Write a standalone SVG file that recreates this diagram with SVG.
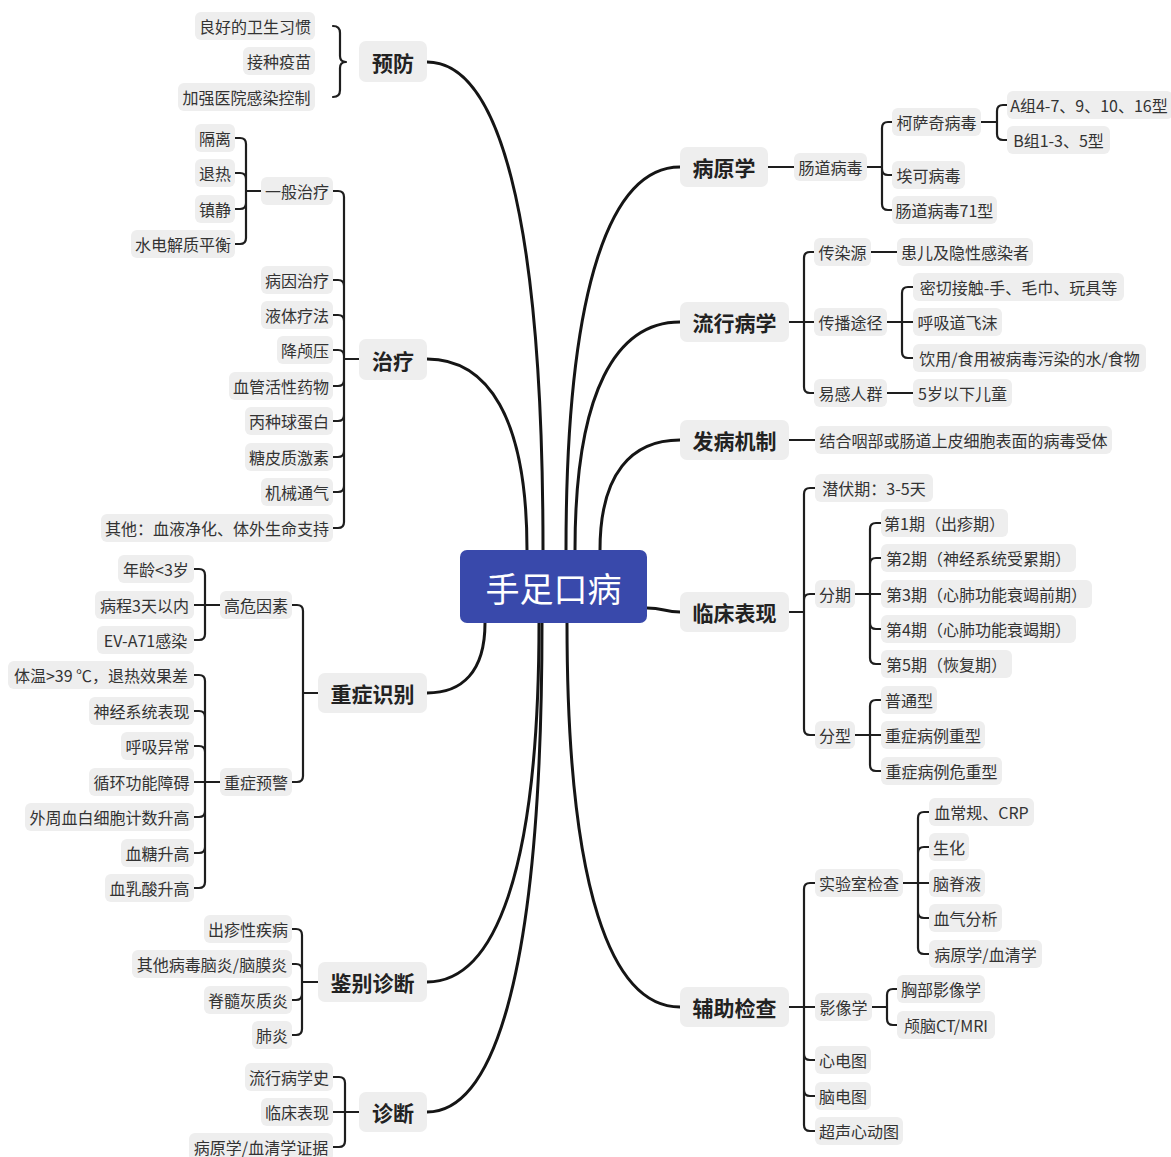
<svg xmlns="http://www.w3.org/2000/svg" width="1171" height="1157" viewBox="0 0 1171 1157">
<style>
.bg{fill:#ffffff}
.n rect{fill:#EEEEEE}
.n text{font-family:"Noto Sans CJK SC","Noto Sans",sans-serif;font-size:16px;fill:#333333;text-anchor:middle;dominant-baseline:central}
.m text{font-size:21px;font-weight:bold;fill:#222222}
.root rect{fill:#3949AB}
.root text{font-size:34px;fill:#ffffff;font-weight:normal}
.c path{fill:none;stroke:#1e1e1e;stroke-width:2.2;stroke-linecap:round;stroke-linejoin:round}
.c path.mc{stroke:#151515;stroke-width:3}
</style>
<rect class="bg" x="0" y="0" width="1171" height="1157"/>
<g id="connectors" class="c">
<path class="mc" d="M427,62 C497,62 543,208 543,550"/>
<path class="mc" d="M427,359 C487,359 527,416 527,550"/>
<path class="mc" d="M427,693 C462,693 485,672 485,623"/>
<path class="mc" d="M427,982 C494,982 539,874 539,623"/>
<path class="mc" d="M427,1112 C496,1112 542,965 542,623"/>
<path class="mc" d="M680,167 C612,167 566,282 566,550"/>
<path class="mc" d="M680,322 C617,322 575,390 575,550"/>
<path class="mc" d="M680,440 C632,440 600,473 600,550"/>
<path class="mc" d="M680,612 C664,612 664,608 647,608"/>
<path class="mc" d="M680,1007 C612,1007 567,892 567,623"/>
<path d="M333,26 Q340,26 340,33 L340,56 Q340,62 346,62 Q340,62 340,68 L340,90 Q340,97 333,97"/>
<path d="M235,138 H240 Q246,138 246,144 V238 Q246,244 240,244 H235 M235,173 H240 Q246,173 246,179 M235,209 H240 Q246,209 246,203 M246,191 H261"/>
<path d="M333,191 H338 Q344,191 344,197 V522 Q344,528 338,528 H333 M333,280 H338 Q344,280 344,286 M333,315 H338 Q344,315 344,321 M333,350 H338 Q344,350 344,356 M333,386 H338 Q344,386 344,380 M333,421 H338 Q344,421 344,415 M333,457 H338 Q344,457 344,451 M333,492 H338 Q344,492 344,486 M344,359 H359"/>
<path d="M194,569 H199 Q205,569 205,575 V634 Q205,640 199,640 H194 M194,605 H220"/>
<path d="M194,675 H199 Q205,675 205,681 V882 Q205,888 199,888 H194 M194,711 H199 Q205,711 205,717 M194,746 H199 Q205,746 205,752 M194,782 H220 M194,817 H199 Q205,817 205,811 M194,853 H199 Q205,853 205,847"/>
<path d="M292,605 H297 Q303,605 303,611 V776 Q303,782 297,782 H292 M303,693 H318"/>
<path d="M292,929 H296 Q302,929 302,935 V1029 Q302,1035 296,1035 H292 M292,964 H296 Q302,964 302,970 M292,1000 H296 Q302,1000 302,994 M302,982 H318"/>
<path d="M333,1077 H339 Q345,1077 345,1083 V1141 Q345,1147 339,1147 H333 M333,1112 H359"/>
<path d="M768,167 H794"/>
<path d="M892,122 H888 Q882,122 882,128 V204 Q882,210 888,210 H892 M892,175 H888 Q882,175 882,169 M867,167 H882"/>
<path d="M1007,105 H1003 Q997,105 997,111 V134 Q997,140 1003,140 H1007 M981,122 H997"/>
<path d="M814,252 H810 Q804,252 804,258 V387 Q804,393 810,393 H814 M789,322 H814"/>
<path d="M871,252 H897"/>
<path d="M913,287 H908 Q902,287 902,293 V352 Q902,358 908,358 H913 M887,322 H913"/>
<path d="M887,393 H913"/>
<path d="M789,440 H815"/>
<path d="M815,488 H810 Q804,488 804,494 V729 Q804,735 810,735 H815 M815,594 H810 Q804,594 804,600 M789,612 H804"/>
<path d="M881,523 H876 Q870,523 870,529 V658 Q870,664 876,664 H881 M881,558 H876 Q870,558 870,564 M855,594 H881 M881,629 H876 Q870,629 870,623"/>
<path d="M881,700 H876 Q870,700 870,706 V765 Q870,771 876,771 H881 M855,735 H881"/>
<path d="M815,883 H810 Q804,883 804,889 V1125 Q804,1131 810,1131 H815 M789,1007 H815 M815,1060 H810 Q804,1060 804,1054 M815,1096 H810 Q804,1096 804,1090"/>
<path d="M929,812 H924 Q918,812 918,818 V948 Q918,954 924,954 H929 M929,847 H924 Q918,847 918,853 M903,883 H929 M929,918 H924 Q918,918 918,912"/>
<path d="M897,989 H893 Q887,989 887,995 V1019 Q887,1025 893,1025 H897 M872,1007 H887"/>
</g>

<g id="root" class="n root"><rect x="460" y="550" width="187" height="73" rx="7"/><text x="553.5" y="587">手足口病</text></g>

<g id="n-yufang" class="n m"><rect x="359" y="41" width="68" height="41" rx="7"/><text x="393" y="62">预防</text></g>
<g id="n-yf1" class="n"><rect x="195" y="12" width="120" height="28" rx="6"/><text x="255" y="26">良好的卫生习惯</text></g>
<g id="n-yf2" class="n"><rect x="243" y="47" width="72" height="28" rx="6"/><text x="279" y="61">接种疫苗</text></g>
<g id="n-yf3" class="n"><rect x="178" y="83" width="137" height="28" rx="6"/><text x="246.5" y="97">加强医院感染控制</text></g>

<g id="n-zhiliao" class="n m"><rect x="359" y="339" width="68" height="41" rx="7"/><text x="393" y="359.5">治疗</text></g>
<g id="n-ybzl" class="n"><rect x="261" y="177" width="72" height="28" rx="6"/><text x="297" y="191">一般治疗</text></g>
<g id="n-gl" class="n"><rect x="195" y="124" width="40" height="28" rx="6"/><text x="215" y="138">隔离</text></g>
<g id="n-tr" class="n"><rect x="195" y="159" width="40" height="28" rx="6"/><text x="215" y="173">退热</text></g>
<g id="n-zj" class="n"><rect x="195" y="195" width="40" height="28" rx="6"/><text x="215" y="209">镇静</text></g>
<g id="n-sdj" class="n"><rect x="131" y="230" width="104" height="28" rx="6"/><text x="183" y="244">水电解质平衡</text></g>
<g id="n-by" class="n"><rect x="261" y="266" width="72" height="28" rx="6"/><text x="297" y="280">病因治疗</text></g>
<g id="n-yt" class="n"><rect x="261" y="301" width="72" height="28" rx="6"/><text x="297" y="315">液体疗法</text></g>
<g id="n-jly" class="n"><rect x="277" y="336" width="56" height="28" rx="6"/><text x="305" y="350">降颅压</text></g>
<g id="n-xg" class="n"><rect x="229" y="372" width="104" height="28" rx="6"/><text x="281" y="386">血管活性药物</text></g>
<g id="n-bz" class="n"><rect x="245" y="407" width="88" height="28" rx="6"/><text x="289" y="421">丙种球蛋白</text></g>
<g id="n-tp" class="n"><rect x="245" y="443" width="88" height="28" rx="6"/><text x="289" y="457">糖皮质激素</text></g>
<g id="n-jx" class="n"><rect x="261" y="478" width="72" height="28" rx="6"/><text x="297" y="492">机械通气</text></g>
<g id="n-qt" class="n"><rect x="101" y="514" width="232" height="28" rx="6"/><text x="217" y="528">其他：血液净化、体外生命支持</text></g>

<g id="n-zzsb" class="n m"><rect x="318" y="673" width="109" height="40" rx="7"/><text x="372.5" y="693">重症识别</text></g>
<g id="n-gwys" class="n"><rect x="220" y="591" width="72" height="28" rx="6"/><text x="256" y="605">高危因素</text></g>
<g id="n-nl" class="n"><rect x="118" y="555" width="76" height="28" rx="6"/><text x="156" y="569">年龄&lt;3岁</text></g>
<g id="n-bc" class="n"><rect x="95" y="591" width="99" height="28" rx="6"/><text x="144.5" y="605">病程3天以内</text></g>
<g id="n-ev" class="n"><rect x="97" y="626" width="97" height="28" rx="6"/><text x="145.5" y="640">EV-A71感染</text></g>
<g id="n-zzyj" class="n"><rect x="220" y="768" width="72" height="28" rx="6"/><text x="256" y="782">重症预警</text></g>
<g id="n-tw" class="n"><rect x="8" y="661" width="186" height="28" rx="6"/><text x="101" y="675">体温&gt;39 ℃，退热效果差</text></g>
<g id="n-sj" class="n"><rect x="89" y="697" width="105" height="28" rx="6"/><text x="141.5" y="711">神经系统表现</text></g>
<g id="n-hx" class="n"><rect x="121" y="732" width="73" height="28" rx="6"/><text x="157.5" y="746">呼吸异常</text></g>
<g id="n-xh" class="n"><rect x="89" y="768" width="105" height="28" rx="6"/><text x="141.5" y="782">循环功能障碍</text></g>
<g id="n-wz" class="n"><rect x="25" y="803" width="169" height="28" rx="6"/><text x="109.5" y="817">外周血白细胞计数升高</text></g>
<g id="n-xt" class="n"><rect x="121" y="839" width="73" height="28" rx="6"/><text x="157.5" y="853">血糖升高</text></g>
<g id="n-xrs" class="n"><rect x="105" y="874" width="89" height="28" rx="6"/><text x="149.5" y="888">血乳酸升高</text></g>

<g id="n-jbzd" class="n m"><rect x="318" y="962" width="109" height="40" rx="7"/><text x="372.5" y="982">鉴别诊断</text></g>
<g id="n-czx" class="n"><rect x="204" y="915" width="88" height="28" rx="6"/><text x="248" y="929">出疹性疾病</text></g>
<g id="n-qtbd" class="n"><rect x="132" y="950" width="160" height="28" rx="6"/><text x="212" y="964">其他病毒脑炎/脑膜炎</text></g>
<g id="n-jshz" class="n"><rect x="204" y="986" width="88" height="28" rx="6"/><text x="248" y="1000">脊髓灰质炎</text></g>
<g id="n-fy" class="n"><rect x="252" y="1021" width="40" height="28" rx="6"/><text x="272" y="1035">肺炎</text></g>

<g id="n-zd" class="n m"><rect x="359" y="1092" width="68" height="40" rx="7"/><text x="393" y="1112">诊断</text></g>
<g id="n-lxbxs" class="n"><rect x="245" y="1063" width="88" height="28" rx="6"/><text x="289" y="1077">流行病学史</text></g>
<g id="n-lcbx2" class="n"><rect x="261" y="1098" width="72" height="28" rx="6"/><text x="297" y="1112">临床表现</text></g>
<g id="n-byxzj" class="n"><rect x="189" y="1133" width="144" height="28" rx="6"/><text x="261" y="1147">病原学/血清学证据</text></g>

<g id="n-byx" class="n m"><rect x="680" y="147" width="88" height="40" rx="7"/><text x="724" y="167">病原学</text></g>
<g id="n-cdbd" class="n"><rect x="794" y="153" width="73" height="28" rx="6"/><text x="830.5" y="167">肠道病毒</text></g>
<g id="n-ksq" class="n"><rect x="892" y="108" width="89" height="28" rx="6"/><text x="936.5" y="122">柯萨奇病毒</text></g>
<g id="n-azu" class="n"><rect x="1007" y="91" width="166" height="28" rx="6"/><text x="1089" y="105">A组4-7、9、10、16型</text></g>
<g id="n-bzu" class="n"><rect x="1007" y="126" width="103" height="28" rx="6"/><text x="1058.5" y="140">B组1-3、5型</text></g>
<g id="n-ak" class="n"><rect x="892" y="161" width="73" height="28" rx="6"/><text x="928.5" y="175">埃可病毒</text></g>
<g id="n-ev71" class="n"><rect x="892" y="196" width="105" height="28" rx="6"/><text x="944.5" y="210">肠道病毒71型</text></g>

<g id="n-lxbx" class="n m"><rect x="680" y="302" width="109" height="40" rx="7"/><text x="734.5" y="322">流行病学</text></g>
<g id="n-cry" class="n"><rect x="814" y="238" width="57" height="28" rx="6"/><text x="842.5" y="252">传染源</text></g>
<g id="n-he" class="n"><rect x="897" y="238" width="136" height="28" rx="6"/><text x="965" y="252">患儿及隐性感染者</text></g>
<g id="n-cbtj" class="n"><rect x="814" y="308" width="73" height="28" rx="6"/><text x="850.5" y="322">传播途径</text></g>
<g id="n-mq" class="n"><rect x="913" y="273" width="211" height="28" rx="6"/><text x="1018.5" y="287">密切接触-手、毛巾、玩具等</text></g>
<g id="n-hxd" class="n"><rect x="913" y="308" width="89" height="28" rx="6"/><text x="957.5" y="322">呼吸道飞沫</text></g>
<g id="n-yy" class="n"><rect x="913" y="344" width="233" height="28" rx="6"/><text x="1029.5" y="358">饮用/食用被病毒污染的水/食物</text></g>
<g id="n-ygrq" class="n"><rect x="814" y="379" width="73" height="28" rx="6"/><text x="850.5" y="393">易感人群</text></g>
<g id="n-5s" class="n"><rect x="913" y="379" width="99" height="28" rx="6"/><text x="962.5" y="393">5岁以下儿童</text></g>

<g id="n-fbjz" class="n m"><rect x="680" y="420" width="109" height="40" rx="7"/><text x="734.5" y="440">发病机制</text></g>
<g id="n-jh" class="n"><rect x="815" y="426" width="297" height="28" rx="6"/><text x="963.5" y="440">结合咽部或肠道上皮细胞表面的病毒受体</text></g>

<g id="n-lcbx" class="n m"><rect x="680" y="592" width="109" height="40" rx="7"/><text x="734.5" y="612">临床表现</text></g>
<g id="n-qfq" class="n"><rect x="815" y="474" width="118" height="28" rx="6"/><text x="874" y="488">潜伏期：3-5天</text></g>
<g id="n-fq" class="n"><rect x="815" y="580" width="40" height="28" rx="6"/><text x="835" y="594">分期</text></g>
<g id="n-q1" class="n"><rect x="881" y="509" width="127" height="28" rx="6"/><text x="944.5" y="523">第1期（出疹期）</text></g>
<g id="n-q2" class="n"><rect x="881" y="544" width="195" height="28" rx="6"/><text x="978.5" y="558">第2期（神经系统受累期）</text></g>
<g id="n-q3" class="n"><rect x="881" y="580" width="211" height="28" rx="6"/><text x="986.5" y="594">第3期（心肺功能衰竭前期）</text></g>
<g id="n-q4" class="n"><rect x="881" y="615" width="195" height="28" rx="6"/><text x="978.5" y="629">第4期（心肺功能衰竭期）</text></g>
<g id="n-q5" class="n"><rect x="881" y="650" width="131" height="28" rx="6"/><text x="946.5" y="664">第5期（恢复期）</text></g>
<g id="n-fx" class="n"><rect x="815" y="721" width="40" height="28" rx="6"/><text x="835" y="735">分型</text></g>
<g id="n-ptx" class="n"><rect x="881" y="686" width="56" height="28" rx="6"/><text x="909" y="700">普通型</text></g>
<g id="n-zzx" class="n"><rect x="881" y="721" width="104" height="28" rx="6"/><text x="933" y="735">重症病例重型</text></g>
<g id="n-wzx" class="n"><rect x="881" y="757" width="121" height="28" rx="6"/><text x="941.5" y="771">重症病例危重型</text></g>

<g id="n-fzjc" class="n m"><rect x="680" y="987" width="109" height="40" rx="7"/><text x="734.5" y="1007">辅助检查</text></g>
<g id="n-sys" class="n"><rect x="815" y="869" width="88" height="28" rx="6"/><text x="859" y="883">实验室检查</text></g>
<g id="n-xcg" class="n"><rect x="929" y="798" width="105" height="28" rx="6"/><text x="981.5" y="812">血常规、CRP</text></g>
<g id="n-sh" class="n"><rect x="929" y="833" width="40" height="28" rx="6"/><text x="949" y="847">生化</text></g>
<g id="n-njy" class="n"><rect x="929" y="869" width="56" height="28" rx="6"/><text x="957" y="883">脑脊液</text></g>
<g id="n-xq" class="n"><rect x="929" y="904" width="73" height="28" rx="6"/><text x="965.5" y="918">血气分析</text></g>
<g id="n-byxq" class="n"><rect x="929" y="940" width="113" height="28" rx="6"/><text x="985.5" y="954">病原学/血清学</text></g>
<g id="n-yxx" class="n"><rect x="815" y="993" width="57" height="28" rx="6"/><text x="843.5" y="1007">影像学</text></g>
<g id="n-xb" class="n"><rect x="897" y="975" width="88" height="28" rx="6"/><text x="941" y="989">胸部影像学</text></g>
<g id="n-ln" class="n"><rect x="897" y="1011" width="98" height="28" rx="6"/><text x="946" y="1025">颅脑CT/MRI</text></g>
<g id="n-xdt" class="n"><rect x="815" y="1046" width="56" height="28" rx="6"/><text x="843" y="1060">心电图</text></g>
<g id="n-ndt" class="n"><rect x="815" y="1082" width="56" height="28" rx="6"/><text x="843" y="1096">脑电图</text></g>
<g id="n-cs" class="n"><rect x="815" y="1117" width="88" height="28" rx="6"/><text x="859" y="1131">超声心动图</text></g>
</svg>
